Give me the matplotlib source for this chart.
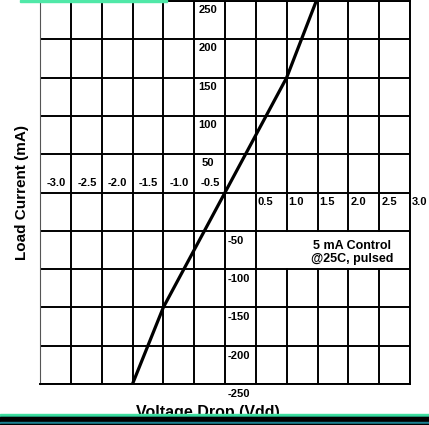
import numpy as np
import matplotlib
matplotlib.use('Agg')
import matplotlib.pyplot as plt
from matplotlib.patches import Rectangle

# data
volts = [-1.5, -1.0, 0.0, 1.0, 1.48]
current = [-250, -150, 0, 150, 250]
x_ticks = [-3.0, -2.5, -2.0, -1.5, -1.0, -0.5, 0.5, 1.0, 1.5, 2.0, 2.5, 3.0]
y_ticks = [250, 200, 150, 100, 50, -50, -100, -150, -200, -250]
note = '5 mA Control\n@25C, pulsed'

plt.rcParams['font.family'] = ['Liberation Sans', 'DejaVu Sans']

W, H = 429, 425
fig = plt.figure(figsize=(W / 100, H / 100), dpi=100)
ax = fig.add_axes([40 / W, (H - 384) / H, 370 / W, 383 / H])
ax.set_xlim(-3, 3)
ax.set_ylim(-250, 250)
ax.set_xticks(np.arange(-3, 3.01, 0.5))
ax.set_yticks(np.arange(-250, 251, 50))
ax.grid(True, color='black', lw=1.4)
ax.set_axisbelow(True)
ax.tick_params(length=0, labelbottom=False, labelleft=False)
for s in ['top', 'right', 'bottom']:
    ax.spines[s].set_color('black')
    ax.spines[s].set_linewidth(1.4)
ax.spines['left'].set_color('#555555')
ax.spines['left'].set_linewidth(0.8)

ax.plot(volts, current, color='black', lw=2.3, solid_capstyle='butt', zorder=3)

lab = dict(fontsize=8, fontweight='bold', textcoords='offset pixels',
           va='center', annotation_clip=False)
for v in x_ticks:
    txt = f'{v:.1f}'
    if v < 0:
        ax.annotate(txt, (v, 0), xytext=(16, 10), ha='center', **lab)
    else:
        ax.annotate(txt, (v, 0), xytext=(2, -9), ha='left', **lab)
for v in y_ticks:
    if v > 0:
        ax.annotate(str(v), (0, v), xytext=(-17, -9), ha='center', **lab)
    else:
        ax.annotate(str(v), (0, v), xytext=(3, -10), ha='left', **lab)

# white box behind the note (blanks the grid cells in that row)
ax.add_patch(Rectangle((0.53, -98.3), 2.44, 46.6, facecolor='white',
                       edgecolor='none', zorder=1))
ax.text(2.06, -78, note, ha='center', va='center', fontsize=9,
        fontweight='bold', linespacing=1.1, zorder=2)

fig.text(22 / W, 1 - 193 / H, 'Load Current (mA)', rotation=90, ha='center',
         va='center', fontsize=11, fontweight='bold')
fig.text(208 / W, 1 - 413 / H, 'Voltage Drop (Vdd)', ha='center',
         va='center', fontsize=11.5, fontweight='bold', zorder=1)

# decorative stripes at the bottom and top
stripes = [(414, 416, '#40E0A0'), (416, 417, '#28B890'), (417, 422, 'black'),
           (422, 424, '#1A8090'), (424, 425, 'black')]
for r0, r1, c in stripes:
    fig.patches.append(Rectangle((0, 1 - r1 / H), 1, (r1 - r0) / H,
                                 transform=fig.transFigure, color=c,
                                 zorder=5))
fig.patches.append(Rectangle((20 / W, 1 - 1.5 / H), 147 / W, 1.5 / H,
                             transform=fig.transFigure, color='#50E8A8',
                             zorder=5))

fig.savefig('out.png', dpi=100)
